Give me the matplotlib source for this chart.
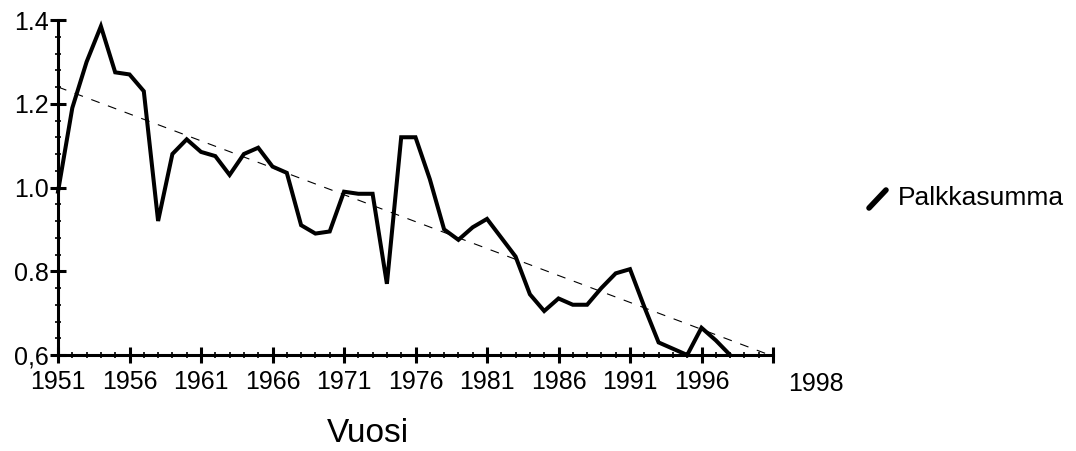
import matplotlib
matplotlib.use("Agg")
import matplotlib.pyplot as plt
from matplotlib.lines import Line2D
from matplotlib.ticker import MultipleLocator

plt.rcParams["font.family"] = ["Liberation Sans", "DejaVu Sans"]

# yearly values
years = list(range(1951, 1999))
palkkasumma = [0.99, 1.19, 1.30, 1.385, 1.275, 1.27, 1.23, 0.92, 1.08, 1.115,
               1.085, 1.075, 1.03, 1.08, 1.095, 1.05, 1.035, 0.91, 0.89, 0.895,
               0.99, 0.985, 0.985, 0.77, 1.12, 1.12, 1.02, 0.90, 0.875, 0.905,
               0.925, 0.88, 0.835, 0.745, 0.705, 0.735, 0.72, 0.72, 0.76, 0.795,
               0.805, 0.715, 0.63, 0.615, 0.60, 0.665, 0.635, 0.60]

# linear trend (dashed), end points
trend_years = [1951, 2001]
trend_vals = [1.24, 0.597]

xticks = [1951, 1956, 1961, 1966, 1971, 1976, 1981, 1986, 1991, 1996, 2001]
xticklabels = ["1951", "1956", "1961", "1966", "1971", "1976", "1981", "1986",
               "1991", "1996", ""]
yticks = [0.6, 0.8, 1.0, 1.2, 1.4]
yticklabels = ["0,6", "0.8", "1.0", "1.2", "1.4"]

W, H = 1076, 451
fig = plt.figure(figsize=(W / 100, H / 100), dpi=100)
ax = fig.add_axes([58 / W, 1 - 355 / H, (773 - 58) / W, (355 - 20) / H])

ax.plot(trend_years, trend_vals, color="black", lw=0.8, dashes=(8, 8))
ax.plot(years, palkkasumma, color="black", lw=2.9, solid_joinstyle="miter",
        clip_on=False)

ax.set_xlim(1951, 2001)
ax.set_ylim(0.6, 1.4)
for s in ["top", "right"]:
    ax.spines[s].set_visible(False)
for s in ["left", "bottom"]:
    ax.spines[s].set_linewidth(2.2)

ax.set_xticks(xticks)
ax.set_xticklabels(xticklabels)
ax.xaxis.set_minor_locator(MultipleLocator(1))
ax.set_yticks(yticks)
ax.set_yticklabels(yticklabels)
ax.yaxis.set_minor_locator(MultipleLocator(0.04))

ax.tick_params(axis="x", which="major", direction="inout", length=12, width=2.2,
               pad=5, labelsize=18)
ax.tick_params(axis="y", which="major", direction="inout", length=11, width=2.2,
               pad=1, labelsize=18)
ax.tick_params(which="minor", direction="inout", length=4, width=1.2)

# stray end label of the original x axis
fig.text(816 / W, 1 - 372 / H, "1998", ha="center", va="top", fontsize=18)

fig.text(368 / W, 1 - 418 / H, "Vuosi", ha="center", va="top", fontsize=24)

# legend: slanted stroke + label
fig.add_artist(Line2D([869 / W, 886 / W], [1 - 208 / H, 1 - 190 / H],
                      color="black", lw=4, solid_capstyle="round"))
fig.text(898 / W, 1 - 198 / H, "Palkkasumma", ha="left", va="center",
         fontsize=19)

fig.savefig("out.png", dpi=100)
